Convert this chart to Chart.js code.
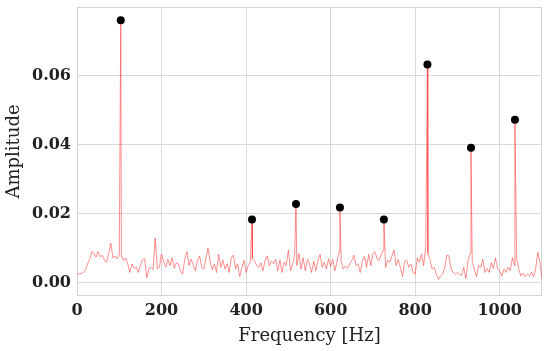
<!DOCTYPE html>
<html>
<head>
<meta charset="utf-8">
<script src="https://cdn.jsdelivr.net/npm/chart.js@4.4.1/dist/chart.umd.min.js"></script>
<style>
  html, body { margin: 0; padding: 0; background: #fff; }
  #wrap { width: 550px; height: 351px; }
</style>
</head>
<body>
<div id="wrap"><canvas id="chart" width="550" height="351"></canvas></div>
<script>
// noise floor sampled every 5 Hz, 0 .. 1100 Hz
const noiseStep = 5;
const noise = [
  0.0025, 0.0026, 0.0027, 0.0030, 0.0037, 0.0055, 0.0068, 0.0090, 0.0086, 0.0074,
  0.0090, 0.0075, 0.0080, 0.0065, 0.0060, 0.0085, 0.0115, 0.0072, 0.0078, 0.0070,
  0.0080, 0.0080, 0.0065, 0.0072, 0.0055, 0.0030, 0.0055, 0.0042, 0.0046, 0.0030,
  0.0050, 0.0068, 0.0070, 0.0015, 0.0040, 0.0045, 0.0038, 0.0130, 0.0040, 0.0045,
  0.0083, 0.0060, 0.0045, 0.0068, 0.0050, 0.0073, 0.0042, 0.0058, 0.0055, 0.0035,
  0.0025, 0.0070, 0.0090, 0.0050, 0.0068, 0.0052, 0.0035, 0.0065, 0.0078, 0.0045,
  0.0040, 0.0070, 0.0100, 0.0060, 0.0038, 0.0055, 0.0030, 0.0083, 0.0045, 0.0066,
  0.0040, 0.0055, 0.0030, 0.0073, 0.0080, 0.0040, 0.0055, 0.0018, 0.0045, 0.0065,
  0.0030, 0.0050, 0.0060, 0.0070, 0.0064, 0.0050, 0.0045, 0.0058, 0.0035, 0.0065,
  0.0078, 0.0050, 0.0063, 0.0055, 0.0068, 0.0035, 0.0066, 0.0030, 0.0060, 0.0050,
  0.0095, 0.0035, 0.0055, 0.0080, 0.0050, 0.0085, 0.0040, 0.0073, 0.0035, 0.0068,
  0.0055, 0.0030, 0.0063, 0.0035, 0.0065, 0.0082, 0.0045, 0.0060, 0.0040, 0.0070,
  0.0048, 0.0068, 0.0035, 0.0060, 0.0090, 0.0060, 0.0040, 0.0048, 0.0042, 0.0055,
  0.0065, 0.0080, 0.0050, 0.0055, 0.0030, 0.0062, 0.0076, 0.0045, 0.0082, 0.0050,
  0.0085, 0.0090, 0.0070, 0.0065, 0.0083, 0.0095, 0.0045, 0.0065, 0.0060, 0.0078,
  0.0095, 0.0050, 0.0068, 0.0045, 0.0018, 0.0062, 0.0065, 0.0045, 0.0055, 0.0030,
  0.0025, 0.0072, 0.0060, 0.0083, 0.0050, 0.0107, 0.0085, 0.0068, 0.0040, 0.0045,
  0.0025, 0.0010, 0.0020, 0.0025, 0.0045, 0.0080, 0.0078, 0.0040, 0.0030, 0.0025,
  0.0030, 0.0025, 0.0022, 0.0045, 0.0012, 0.0065, 0.0085, 0.0060, 0.0040, 0.0018,
  0.0050, 0.0045, 0.0068, 0.0030, 0.0042, 0.0030, 0.0058, 0.0042, 0.0072, 0.0040,
  0.0035, 0.0020, 0.0040, 0.0030, 0.0045, 0.0035, 0.0073, 0.0050, 0.0070, 0.0040,
  0.0020, 0.0028, 0.0018, 0.0025, 0.0020, 0.0030, 0.0018, 0.0040, 0.0088, 0.0060,
  0.0012
];

// detected harmonic peaks
const peakFreqs = [103.5, 414, 518, 622, 726, 829, 932, 1036];
const peakAmps  = [0.0760, 0.0183, 0.0228, 0.0218, 0.0183, 0.0632, 0.0391, 0.0472];

const xTicks = [0, 200, 400, 600, 800, 1000];
const yTicks = [0, 0.02, 0.04, 0.06];

// merge noise floor and peaks into one spectrum line
const spectrum = noise.map((a, i) => ({ x: i * noiseStep, y: a }));
peakFreqs.forEach((f, i) => spectrum.push({ x: f, y: peakAmps[i] }));
spectrum.sort((a, b) => a.x - b.x);

const peaks = peakFreqs.map((f, i) => ({ x: f, y: peakAmps[i] }));

const frame = {
  id: "frame",
  beforeDatasetsDraw(chart) {
    const { ctx, chartArea: a } = chart;
    ctx.save();
    ctx.strokeStyle = "#d4d4d4";
    ctx.lineWidth = 1;
    ctx.strokeRect(a.left + 0.5, a.top + 0.5, a.width - 1, a.height - 1);
    ctx.restore();
  }
};

const tickFont = { family: "DejaVu Serif", size: 16, weight: "bold" };
const titleFont = { family: "DejaVu Serif", size: 18 };

new Chart(document.getElementById("chart"), {
  type: "scatter",
  data: {
    datasets: [
      {
        data: peaks,
        pointRadius: 4,
        pointBackgroundColor: "#000",
        pointBorderWidth: 0,
        showLine: false,
        order: 0
      },
      {
        data: spectrum,
        showLine: true,
        borderColor: "rgba(255, 50, 50, 0.55)",
        borderWidth: 1,
        pointRadius: 0,
        tension: 0,
        order: 1
      }
    ]
  },
  options: {
    responsive: false,
    animation: false,
    layout: { padding: { top: 7, right: 8, left: 0, bottom: 0 } },
    plugins: { legend: { display: false }, tooltip: { enabled: false } },
    scales: {
      x: {
        type: "linear",
        min: 0,
        max: 1100,
        afterBuildTicks: s => { s.ticks = xTicks.map(v => ({ value: v })); },
        afterFit: s => { s.height = 55; s.paddingLeft = 0; s.paddingRight = 0; },
        grid: { color: "#d9d9d9", lineWidth: 1, drawTicks: false },
        border: { display: false },
        ticks: { font: tickFont, color: "#222", padding: 5, maxRotation: 0, callback: v => String(v) },
        title: { display: true, text: "Frequency [Hz]", font: titleFont, color: "#222", padding: { top: 0 } }
      },
      y: {
        min: -0.0038,
        max: 0.0798,
        afterBuildTicks: s => { s.ticks = yTicks.map(v => ({ value: v })); },
        afterFit: s => { s.width = 77; s.paddingTop = 0; s.paddingBottom = 0; },
        grid: { color: "#d9d9d9", lineWidth: 1, drawTicks: false },
        border: { display: false },
        ticks: { font: tickFont, color: "#222", padding: 6, callback: v => v.toFixed(2) },
        title: { display: true, text: "Amplitude", font: titleFont, color: "#222", padding: { bottom: 1 } }
      }
    }
  },
  plugins: [frame]
});
</script>
</body>
</html>
